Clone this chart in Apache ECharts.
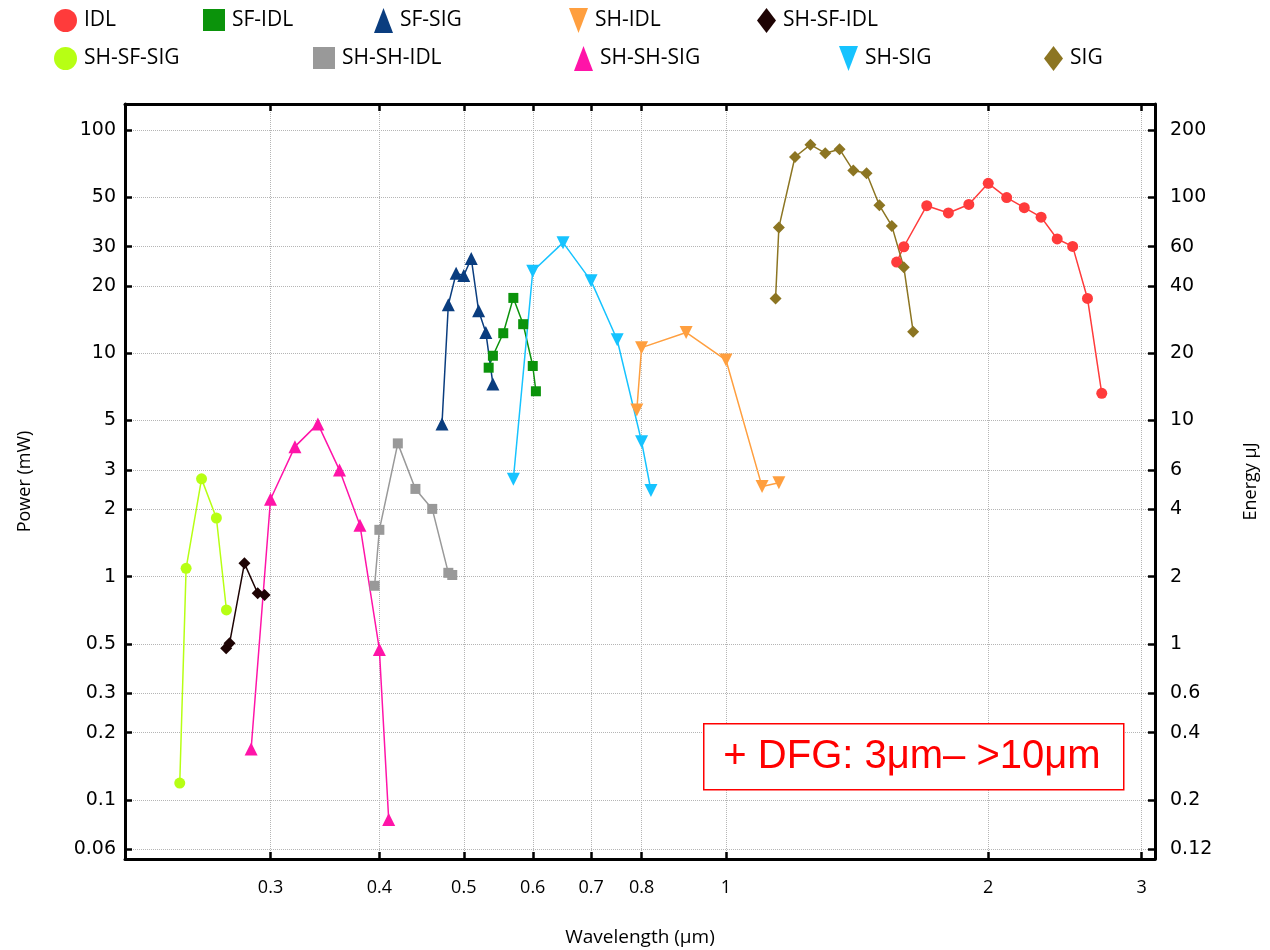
<!DOCTYPE html>
<html><head><meta charset="utf-8">
<script src="https://cdn.jsdelivr.net/npm/echarts@6/dist/echarts.min.js"></script>
<style>html,body{margin:0;padding:0;background:#fff}#c{width:1270px;height:950px}</style>
</head><body><div id="c"></div>
<script>
// ---- data (wavelength in µm, power in mW) ----
const idlWl = [1.57, 1.6, 1.7, 1.8, 1.9, 2.0, 2.1, 2.2, 2.3, 2.4, 2.5, 2.6, 2.7];
const idlPw = [25.6, 30.0, 45.8, 42.5, 46.4, 57.7, 49.8, 44.9, 40.7, 32.5, 30.1, 17.6, 6.62];
const sfIdlWl = [0.534, 0.54, 0.555, 0.57, 0.585, 0.6, 0.605];
const sfIdlPw = [8.62, 9.75, 12.3, 17.7, 13.5, 8.77, 6.76];
const sfSigWl = [0.472, 0.48, 0.49, 0.50, 0.51, 0.52, 0.53, 0.54];
const sfSigPw = [4.83, 16.5, 22.8, 22.3, 26.6, 15.5, 12.4, 7.29];
const shIdlWl = [0.79, 0.8, 0.9, 1.0, 1.1, 1.15];
const shIdlPw = [5.57, 10.6, 12.4, 9.33, 2.53, 2.63];
const shSfIdlWl = [0.2668, 0.2692, 0.280, 0.290, 0.2953];
const shSfIdlPw = [0.478, 0.503, 1.147, 0.842, 0.827];
const shSfSigWl = [0.236, 0.240, 0.250, 0.260, 0.267];
const shSfSigPw = [0.119, 1.09, 2.74, 1.83, 0.709];
const shShIdlWl = [0.395, 0.40, 0.42, 0.44, 0.46, 0.48, 0.485];
const shShIdlPw = [0.91, 1.62, 3.95, 2.47, 2.01, 1.04, 1.017];
const shShSigWl = [0.285, 0.30, 0.32, 0.34, 0.36, 0.38, 0.40, 0.41];
const shShSigPw = [0.169, 2.22, 3.82, 4.83, 3.00, 1.70, 0.472, 0.0818];
const shSigWl = [0.57, 0.6, 0.65, 0.7, 0.75, 0.8, 0.82];
const shSigPw = [2.73, 23.3, 31.3, 21.1, 11.5, 4.02, 2.43];
const sigWl = [1.14, 1.15, 1.2, 1.25, 1.3, 1.35, 1.4, 1.45, 1.5, 1.55, 1.6, 1.64];
const sigPw = [17.6, 36.6, 75.7, 85.9, 78.7, 82.0, 65.8, 64.0, 46.0, 37.2, 24.3, 12.5];

const xTicks = [0.3, 0.4, 0.5, 0.6, 0.7, 0.8, 1, 2, 3];
const yTicks = [0.06, 0.1, 0.2, 0.3, 0.5, 1, 2, 3, 5, 10, 20, 30, 50, 100];
const energyTicks = [0.12, 0.2, 0.4, 0.6, 1, 2, 4, 6, 10, 20, 40, 60, 100, 200];
const energyPerPower = 2; // µJ per mW
const annotationText = '+ DFG: 3μm– >10μm';

// ---- styling / layout ----
const DOWN_ICON = 'path://M0,0 L19,0 L9.5,25 Z';
const seriesDefs = [
  {name: 'IDL',       wl: idlWl,     pw: idlPw,     color: '#ff3b3b', symbol: 'circle',   size: 11, rot: 0,   icon: 'circle',   iw: 23, ih: 23, left: 54,  top: 9},
  {name: 'SF-IDL',    wl: sfIdlWl,   pw: sfIdlPw,   color: '#0b930b', symbol: 'rect',     size: 10, rot: 0,   icon: 'rect',     iw: 22, ih: 22, left: 203, top: 9},
  {name: 'SF-SIG',    wl: sfSigWl,   pw: sfSigPw,   color: '#0a3d7f', symbol: 'triangle', size: 13, rot: 0,   icon: 'triangle', iw: 19, ih: 25, left: 374, top: 8},
  {name: 'SH-IDL',    wl: shIdlWl,   pw: shIdlPw,   color: '#ff9f3f', symbol: 'triangle', size: 13, rot: 180, icon: DOWN_ICON,  iw: 19, ih: 25, left: 569, top: 8},
  {name: 'SH-SF-IDL', wl: shSfIdlWl, pw: shSfIdlPw, color: '#1e0404', symbol: 'diamond',  size: 12, rot: 0,   icon: 'diamond',  iw: 19, ih: 25, left: 757, top: 8},
  {name: 'SH-SF-SIG', wl: shSfSigWl, pw: shSfSigPw, color: '#b7ff14', symbol: 'circle',   size: 11, rot: 0,   icon: 'circle',   iw: 23, ih: 23, left: 54,  top: 47},
  {name: 'SH-SH-IDL', wl: shShIdlWl, pw: shShIdlPw, color: '#999999', symbol: 'rect',     size: 10, rot: 0,   icon: 'rect',     iw: 22, ih: 22, left: 313, top: 47},
  {name: 'SH-SH-SIG', wl: shShSigWl, pw: shShSigPw, color: '#ff14a8', symbol: 'triangle', size: 13, rot: 0,   icon: 'triangle', iw: 19, ih: 25, left: 574, top: 46},
  {name: 'SH-SIG',    wl: shSigWl,   pw: shSigPw,   color: '#16c3ff', symbol: 'triangle', size: 13, rot: 180, icon: DOWN_ICON,  iw: 19, ih: 25, left: 839, top: 46},
  {name: 'SIG',       wl: sigWl,     pw: sigPw,     color: '#8c7522', symbol: 'diamond',  size: 12, rot: 0,   icon: 'diamond',  iw: 19, ih: 25, left: 1044, top: 46}
];

const X_MIN = 0.2042, X_MAX = 3.108, Y_MIN = 0.0544, Y_MAX = 130.7;
const fmt = v => String(+(+v).toPrecision(6));
const gridLine = {show: true, lineStyle: {color: '#b5b5b5', type: 'dotted', width: 1}};
const axisLine = {show: true, onZero: false, lineStyle: {color: '#000', width: 3}};
const tick = (vals) => ({show: true, inside: true, length: 7, customValues: vals, lineStyle: {color: '#000', width: 2.5}});
const labelFont = {fontFamily: 'DejaVu Sans', fontSize: 19, color: '#000'};
const nameFont = {fontFamily: 'Open Sans', fontSize: 18, color: '#000'};

const chart = echarts.init(document.getElementById('c'), null, {renderer: 'canvas'});
chart.setOption({
  animation: false,
  backgroundColor: '#fff',
  grid: {left: 125, right: 115, top: 104, bottom: 91, containLabel: false, outerBoundsMode: 'none'},
  legend: seriesDefs.map(d => ({
    data: [{name: d.name, icon: d.icon, symbolRotate: 0}],
    left: d.left, top: d.top, padding: 0,
    itemWidth: d.iw, itemHeight: d.ih, symbolRotate: 0, symbolKeepAspect: false,
    selectedMode: false,
    textStyle: {fontFamily: 'Open Sans', fontSize: 21, color: '#000', padding: [0, 0, 0, 2], verticalAlign: 'middle'}
  })),
  xAxis: [
    {type: 'log', min: X_MIN, max: X_MAX, position: 'bottom',
     name: 'Wavelength (μm)', nameLocation: 'middle', nameGap: 69, nameTextStyle: {fontFamily: 'Open Sans', fontSize: 19, color: '#000'},
     axisLine: axisLine, axisTick: tick(xTicks),
     axisLabel: {customValues: xTicks, formatter: fmt, margin: 20, fontFamily: 'Open Sans', fontSize: 18, color: '#000'},
     splitLine: gridLine, minorTick: {show: false}},
    {type: 'log', min: X_MIN, max: X_MAX, position: 'top',
     axisLine: axisLine, axisTick: tick(xTicks), axisLabel: {show: false}, splitLine: {show: false}}
  ],
  yAxis: [
    {type: 'log', min: Y_MIN, max: Y_MAX, position: 'left',
     name: 'Power (mW)', nameLocation: 'middle', nameGap: 91, nameTextStyle: nameFont,
     axisLine: axisLine, axisTick: tick(yTicks),
     axisLabel: Object.assign({customValues: yTicks, formatter: fmt, margin: 9}, labelFont),
     splitLine: gridLine},
    {type: 'log', min: Y_MIN * energyPerPower, max: Y_MAX * energyPerPower, position: 'right',
     name: 'Energy μJ', nameLocation: 'middle', nameGap: 87, nameTextStyle: nameFont,
     axisLine: axisLine, axisTick: tick(energyTicks),
     axisLabel: Object.assign({customValues: energyTicks, formatter: fmt, margin: 15}, labelFont),
     splitLine: {show: false}}
  ],
  series: seriesDefs.map(d => ({
    name: d.name, type: 'line', xAxisIndex: 0, yAxisIndex: 0,
    data: d.wl.map((x, i) => [x, d.pw[i]]),
    symbol: d.symbol, symbolSize: d.size, symbolRotate: d.rot, showSymbol: true,
    lineStyle: {color: d.color, width: 1.5},
    itemStyle: {color: d.color},
    emphasis: {disabled: true}
  })),
  graphic: [
    {type: 'rect', left: 703, top: 723, shape: {width: 420, height: 66},
     style: {fill: '#fff', stroke: '#ff0000', lineWidth: 1.5}, z: 100},
    {type: 'text', x: 912, y: 757, z: 101,
     style: {text: annotationText, fill: '#ff0000', font: '40px "Liberation Sans"', align: 'center', verticalAlign: 'middle'}}
  ]
});
</script></body></html>
